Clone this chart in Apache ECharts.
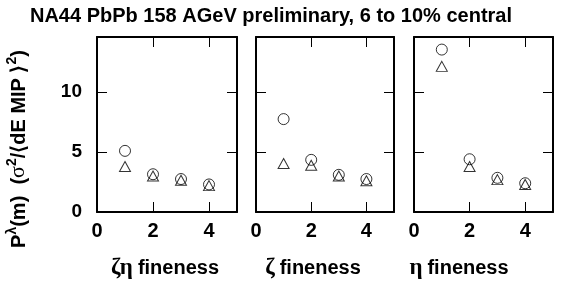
<!DOCTYPE html>
<html>
<head>
<meta charset="utf-8">
<script src="https://cdn.jsdelivr.net/npm/echarts@6/dist/echarts.min.js"></script>
<style>
  html, body { margin: 0; padding: 0; background: #fff; }
  #chart { width: 564px; height: 293px; }
</style>
</head>
<body>
<div id="chart"></div>
<script>
// fineness values on x
const fineness = [1, 2, 3, 4]
// zeta-eta panel
const zetaEtaCircle = [5.1, 3.15, 2.75, 2.3]
const zetaEtaTriangle = [3.8, 3.0, 2.65, 2.2]
// zeta panel
const zetaCircle = [7.75, 4.35, 3.1, 2.75]
const zetaTriangle = [4.05, 3.9, 3.0, 2.6]
// eta panel
const etaCircle = [13.55, 4.4, 2.85, 2.4]
const etaTriangle = [12.15, 3.8, 2.7, 2.3]

const panelNames = [
  { greek: 'ζη', x: 160 },
  { greek: 'ζ', x: 308 },
  { greek: 'η', x: 454 }
]

const chart = echarts.init(document.getElementById('chart'))

const grids = [
  { left: 97, top: 37, width: 140, height: 175 },
  { left: 256, top: 37, width: 138, height: 175 },
  { left: 414, top: 37, width: 139, height: 175 }
]

const font = 'Liberation Sans, Arial, sans-serif'
const serif = 'Liberation Serif, DejaVu Serif, serif'
const xAxes = []
const yAxes = []
grids.forEach((g, i) => {
  ;['bottom', 'top'].forEach(pos => {
    xAxes.push({
      type: 'value', gridIndex: i, position: pos, min: 0, max: 5, interval: 2,
      axisLine: { show: true, onZero: false, lineStyle: { color: '#000', width: 2 } },
      axisTick: { show: true, inside: true, length: 10, lineStyle: { color: '#000', width: 1 } },
      axisLabel: {
        show: pos === 'bottom', showMaxLabel: false, margin: 9,
        color: '#000', fontSize: 20, fontWeight: 'bold', fontFamily: font
      },
      splitLine: { show: false }
    })
  })
  ;['left', 'right'].forEach(pos => {
    yAxes.push({
      type: 'value', gridIndex: i, position: pos, min: 0, max: 14.6, interval: 5,
      axisLine: { show: true, onZero: false, lineStyle: { color: '#000', width: 2 } },
      axisTick: { show: true, inside: true, length: 10, lineStyle: { color: '#000', width: 1 } },
      axisLabel: {
        show: i === 0 && pos === 'left', showMaxLabel: false, margin: 15,
        color: '#000', fontSize: 19, fontWeight: 'bold', fontFamily: font
      },
      splitLine: { show: false }
    })
  })
})

function pts(ys) {
  return fineness.map((x, k) => [x, ys[k]])
}

const panels = [
  [zetaEtaCircle, zetaEtaTriangle],
  [zetaCircle, zetaTriangle],
  [etaCircle, etaTriangle]
]
const series = []
panels.forEach((p, i) => {
  series.push({
    type: 'scatter', xAxisIndex: i * 2, yAxisIndex: i * 2, data: pts(p[0]),
    symbol: 'circle', symbolSize: 11,
    itemStyle: { color: 'rgba(0,0,0,0)', borderColor: '#000', borderWidth: 1 }
  })
  series.push({
    type: 'scatter', xAxisIndex: i * 2, yAxisIndex: i * 2, data: pts(p[1]),
    symbol: 'triangle', symbolSize: [11, 10],
    itemStyle: { color: 'rgba(0,0,0,0)', borderColor: '#000', borderWidth: 1 }
  })
})

const titles = [{
  text: 'NA44 PbPb 158 AGeV preliminary, 6 to 10% central',
  left: 266, top: 1, textAlign: 'center',
  textStyle: { fontSize: 20, fontWeight: 'bold', color: '#000', fontFamily: font }
}]
panelNames.forEach(n => {
  titles.push({
    text: '{g|' + n.greek + '} {b|fineness}',
    left: n.x, top: 252, textAlign: 'center',
    textStyle: {
      rich: {
        g: { fontSize: 23, fontFamily: serif, color: '#000' },
        b: { fontSize: 20, fontWeight: 'bold', fontFamily: font, color: '#000' }
      }
    }
  })
})

chart.setOption({
  animation: false,
  title: titles,
  grid: grids,
  xAxis: xAxes,
  yAxis: yAxes,
  series: series,
  graphic: [{
    type: 'text',
    x: 17, y: 149, rotation: Math.PI / 2,
    style: {
      text: '{b|P}{s|λ}{b|(m)  (}{g|σ}{s|2}{b|/⟨dE MIP ⟩}{s|2}{b|)}',
      align: 'center', verticalAlign: 'middle',
      rich: {
        b: { fontSize: 20, fontWeight: 'bold', fontFamily: font, fill: '#000', lineHeight: 24, verticalAlign: 'bottom' },
        g: { fontSize: 22, fontFamily: serif, fill: '#000', lineHeight: 24, verticalAlign: 'bottom' },
        s: { fontSize: 14, fontWeight: 'bold', fontFamily: font, fill: '#000', lineHeight: 24, verticalAlign: 'top' }
      }
    }
  }]
})
</script>
</body>
</html>
